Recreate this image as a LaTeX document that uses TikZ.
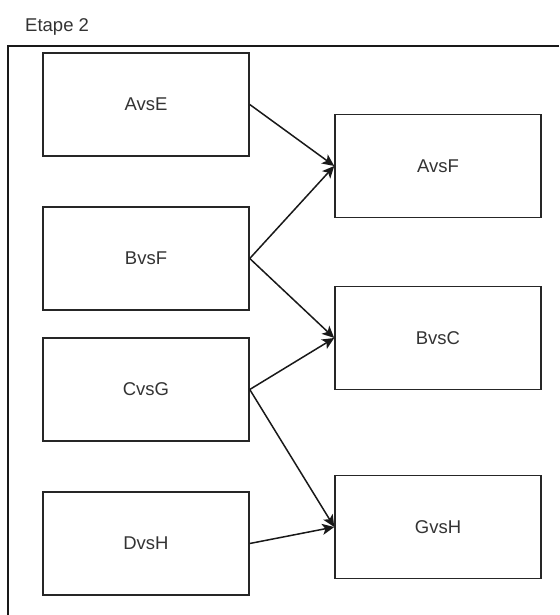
\documentclass[tikz,border=0pt]{standalone}
\usepackage{fontspec}
\setmainfont{Liberation Sans}
\usetikzlibrary{arrows.meta}
\begin{document}
\begin{tikzpicture}[x=1pt,y=-1pt,
  boxnode/.style={draw=black!85,line width=1.5pt,minimum width=206pt,minimum height=103pt,inner sep=0pt,
    font=\fontsize{18.5}{20}\selectfont,text=black!80},
  conn/.style={draw=black!90,line width=1.5pt,-{Stealth[length=12pt,width=11pt,inset=3pt]}},
  frameline/.style={draw=black!90,line width=1.8pt}]
\useasboundingbox (0,0) rectangle (559,615);
\node[anchor=west,font=\fontsize{18.5}{20}\selectfont,text=black!80,inner sep=0pt] (title) at (25,27) {Etape 2};
\coordinate (fa) at (559,46);
\coordinate (fb) at (8,46);
\coordinate (fc) at (8,615);
\draw[frameline] (fa) -- (fb) -- (fc);
\node[boxnode] (avse) at (146,104.5) {AvsE};
\node[boxnode] (bvsf) at (146,258.5) {BvsF};
\node[boxnode] (cvsg) at (146,389.5) {CvsG};
\node[boxnode] (dvsh) at (146,543.5) {DvsH};
\node[boxnode] (avsf) at (438,166) {AvsF};
\node[boxnode] (bvsc) at (438,338) {BvsC};
\node[boxnode] (gvsh) at (438,527) {GvsH};
\draw[conn] (avse.east) -- (avsf.west);
\draw[conn] (bvsf.east) -- (avsf.west);
\draw[conn] (bvsf.east) -- (bvsc.west);
\draw[conn] (cvsg.east) -- (bvsc.west);
\draw[conn] (cvsg.east) -- (gvsh.west);
\draw[conn] (dvsh.east) -- (gvsh.west);
\end{tikzpicture}
\end{document}
